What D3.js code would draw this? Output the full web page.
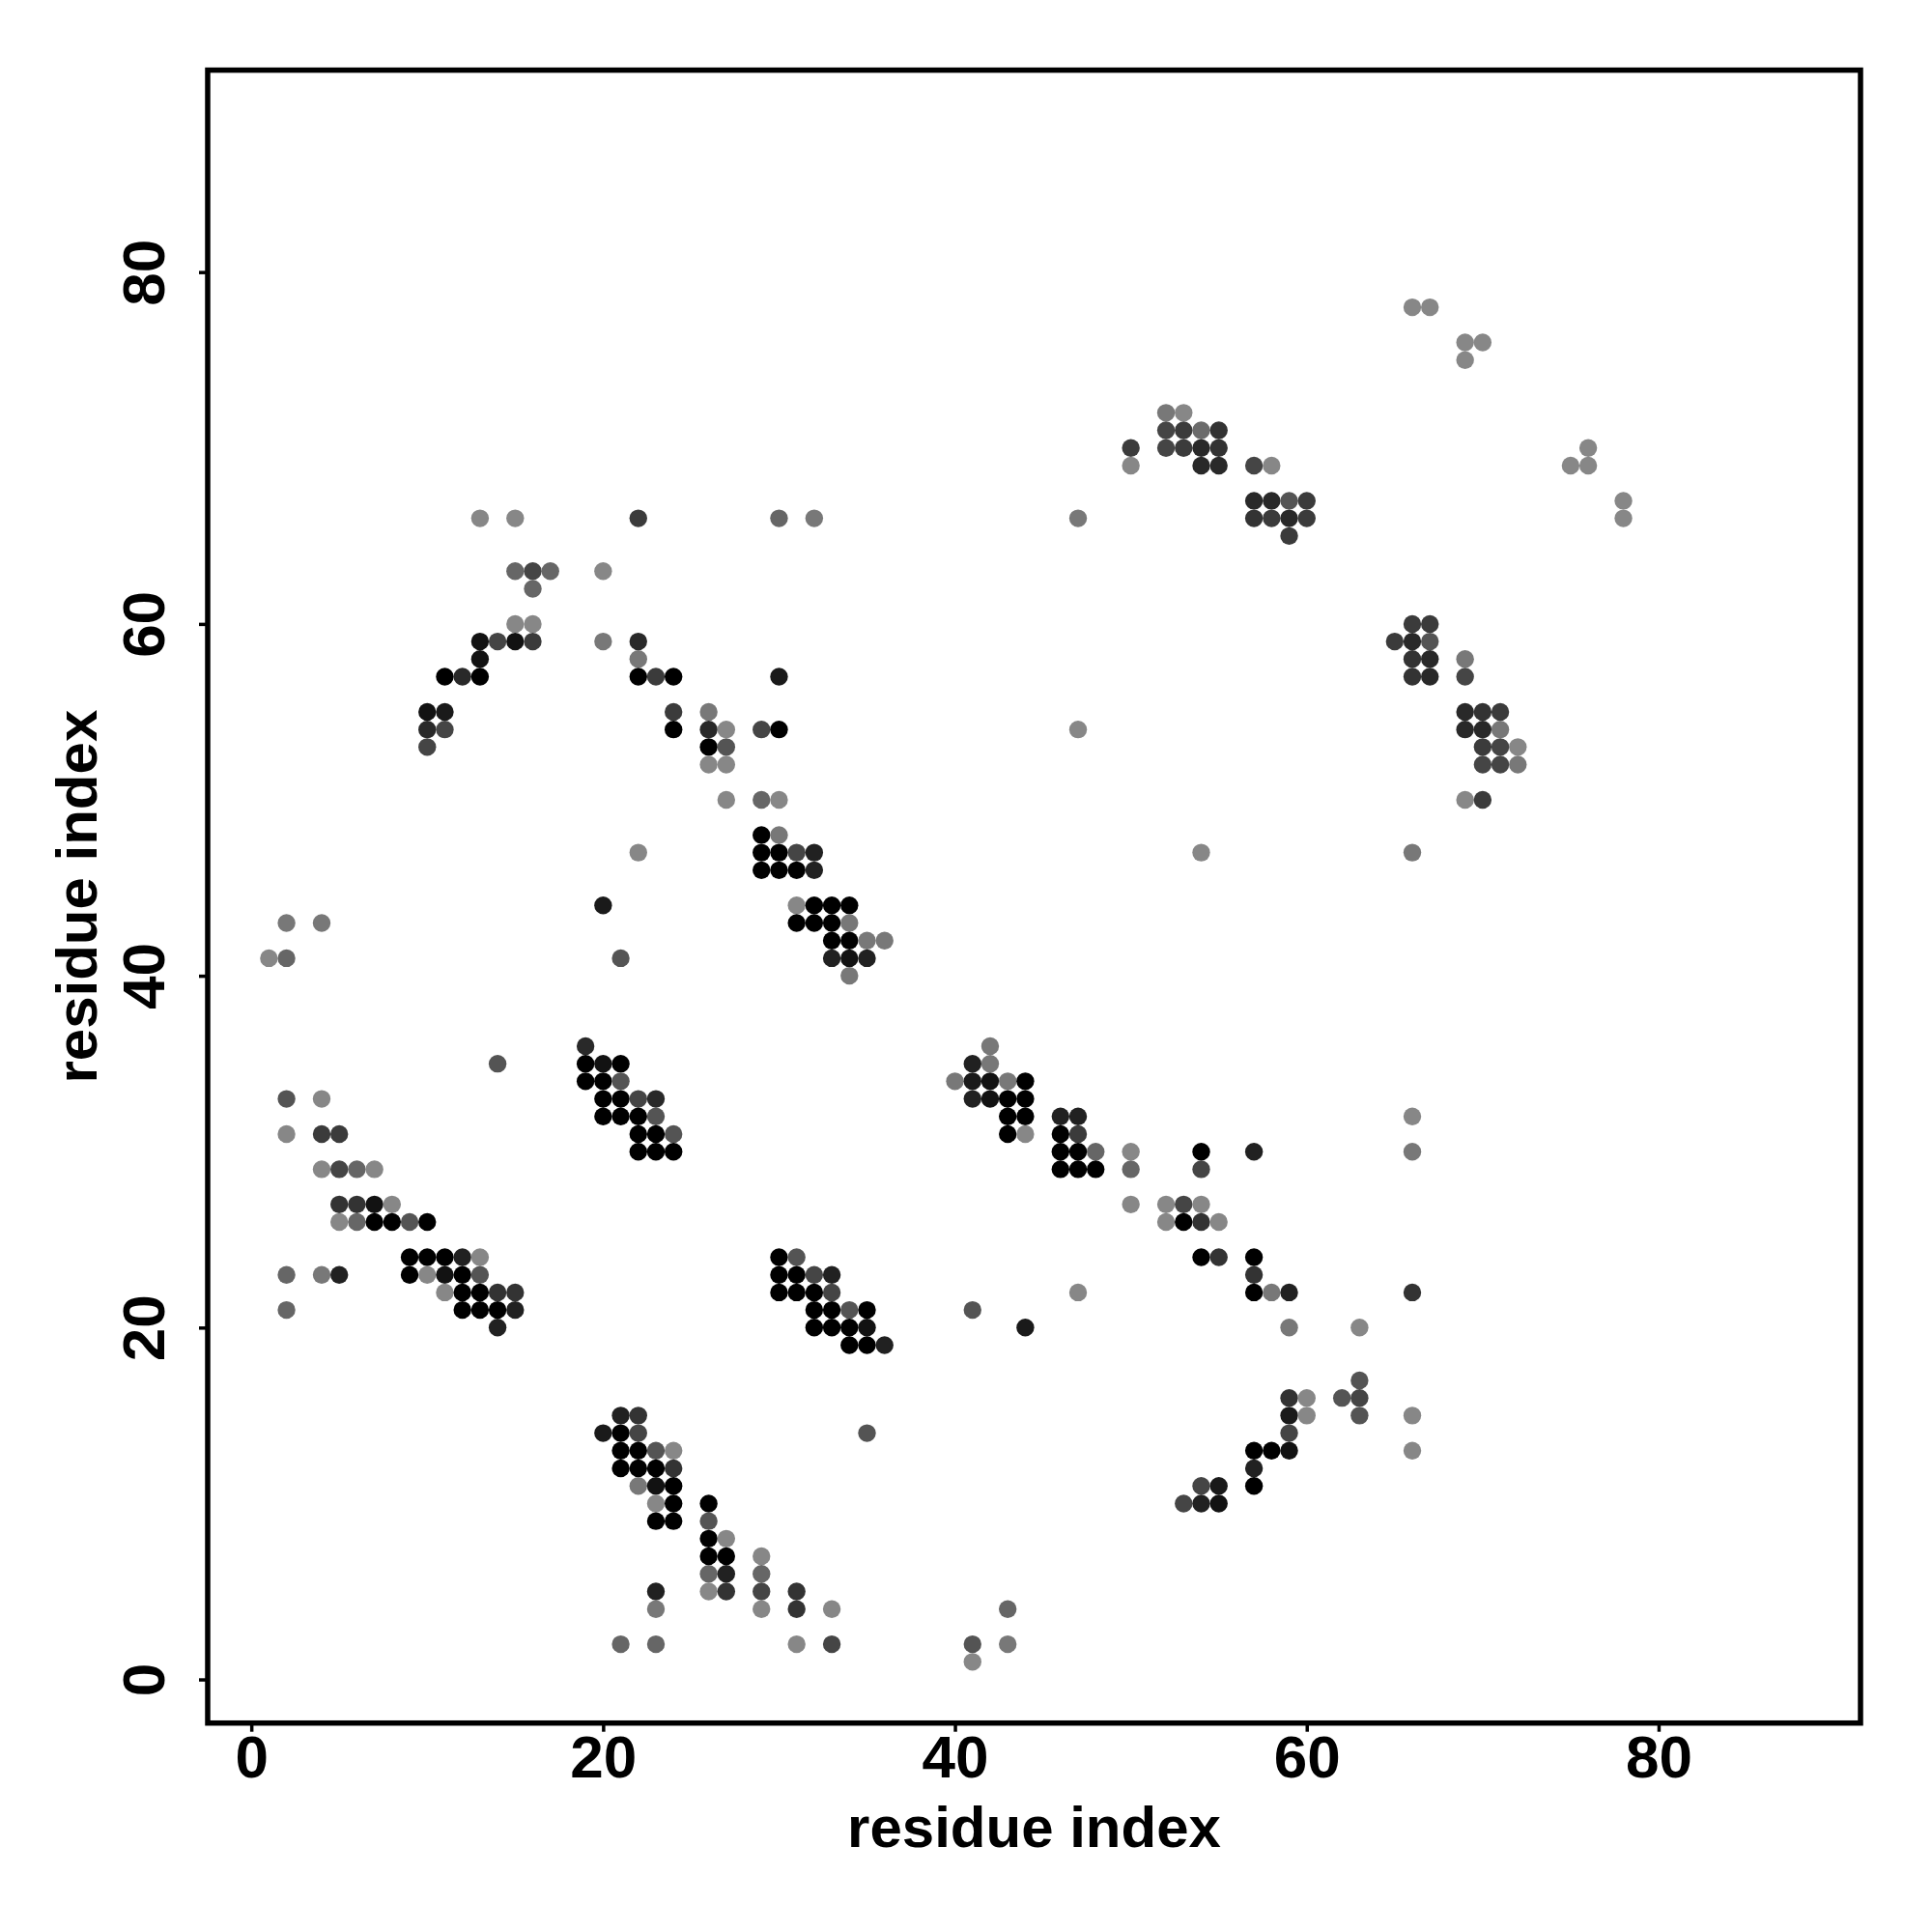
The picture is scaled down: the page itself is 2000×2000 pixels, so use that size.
<!DOCTYPE html>
<html>
<head>
<meta charset="utf-8">
<script src="https://cdn.jsdelivr.net/npm/d3@7"></script>
<style>
  html, body { margin: 0; padding: 0; background: #fff; }
  svg { display: block; }
  text { font-family: "Liberation Sans", Arial, Helvetica, sans-serif; font-weight: bold; }
</style>
</head>
<body>
<svg id="chart" width="2000" height="2000"></svg>
<script>
// ---- data ----
const xTicks = [0, 20, 40, 60, 80];
const yTicks = [0, 20, 40, 60, 80];
const xLabel = "residue index";
const yLabel = "residue index";
const axisLimits = [1, 88];

// contacts: [residue i, residue j, score (0..1, darker = higher)]
const contacts = [
  // j = 78..75
  [66,78,0.47],[67,78,0.47],
  [69,76,0.47],[70,76,0.47],
  [69,75,0.47],
  // j = 72
  [52,72,0.53],[53,72,0.47],
  // j = 71
  [52,71,0.73],[53,71,0.77],[54,71,0.58],[55,71,0.80],
  // j = 70
  [50,70,0.77],[52,70,0.73],[53,70,0.77],[54,70,0.84],[55,70,0.80],[76,70,0.47],
  // j = 69
  [50,69,0.47],[54,69,0.84],[55,69,0.84],[57,69,0.73],[58,69,0.47],[75,69,0.47],[76,69,0.47],
  // j = 67
  [57,67,0.84],[58,67,0.84],[59,67,0.67],[60,67,0.77],[78,67,0.47],
  // j = 66
  [13,66,0.47],[15,66,0.47],[22,66,0.77],[30,66,0.60],[32,66,0.53],[47,66,0.53],
  [57,66,0.80],[58,66,0.77],[59,66,0.84],[60,66,0.77],[78,66,0.47],
  // j = 65
  [59,65,0.77],
  // j = 63, 62
  [15,63,0.60],[16,63,0.73],[17,63,0.60],[20,63,0.47],
  [16,62,0.60],
  // j = 60
  [15,60,0.47],[16,60,0.47],[66,60,0.77],[67,60,0.77],
  // j = 59
  [13,59,0.93],[14,59,0.73],[15,59,0.93],[16,59,0.77],[20,59,0.53],[22,59,0.84],
  [65,59,0.77],[66,59,0.84],[67,59,0.67],
  // j = 58
  [13,58,0.93],[22,58,0.53],[66,58,0.80],[67,58,0.84],[69,58,0.53],
  // j = 57
  [11,57,1.00],[12,57,0.84],[13,57,1.00],[22,57,1.00],[23,57,0.77],[24,57,1.00],[30,57,0.90],
  [66,57,0.80],[67,57,0.84],[69,57,0.73],
  // j = 55
  [10,55,0.93],[11,55,0.90],[24,55,0.77],[26,55,0.53],[69,55,0.84],[70,55,0.80],[71,55,0.77],
  // j = 54
  [10,54,0.84],[11,54,0.73],[24,54,1.00],[26,54,0.84],[27,54,0.47],[29,54,0.73],[30,54,1.00],
  [47,54,0.47],[69,54,0.84],[70,54,0.84],[71,54,0.53],
  // j = 53
  [10,53,0.73],[26,53,1.00],[27,53,0.67],[70,53,0.77],[71,53,0.73],[72,53,0.47],
  // j = 52
  [26,52,0.47],[27,52,0.47],[70,52,0.73],[71,52,0.73],[72,52,0.53],
  // j = 50
  [27,50,0.47],[29,50,0.60],[30,50,0.47],[69,50,0.47],[70,50,0.77],
  // j = 48
  [29,48,1.00],[30,48,0.53],
  // j = 47
  [22,47,0.47],[29,47,1.00],[30,47,1.00],[31,47,0.73],[32,47,0.87],[54,47,0.47],[66,47,0.53],
  // j = 46
  [29,46,1.00],[30,46,1.00],[31,46,1.00],[32,46,0.87],
  // j = 44
  [20,44,0.90],[31,44,0.47],[32,44,1.00],[33,44,1.00],[34,44,1.00],
  // j = 43
  [2,43,0.53],[4,43,0.53],[31,43,1.00],[32,43,1.00],[33,43,1.00],[34,43,0.53],
  // j = 42
  [33,42,1.00],[34,42,1.00],[35,42,0.53],[36,42,0.53],
  // j = 41
  [1,41,0.47],[2,41,0.60],[21,41,0.67],[33,41,0.87],[34,41,0.93],[35,41,0.87],
  // j = 40
  [34,40,0.53],
  // j = 36
  [19,36,0.84],[42,36,0.53],
  // j = 35
  [14,35,0.67],[19,35,1.00],[20,35,0.93],[21,35,1.00],[41,35,0.87],[42,35,0.53],
  // j = 34
  [19,34,1.00],[20,34,1.00],[21,34,0.67],[40,34,0.53],[41,34,0.90],[42,34,0.93],[43,34,0.53],[44,34,1.00],
  // j = 33
  [2,33,0.67],[4,33,0.47],[20,33,1.00],[21,33,1.00],[22,33,0.73],[23,33,0.84],
  [41,33,0.87],[42,33,0.93],[43,33,1.00],[44,33,1.00],
  // j = 32
  [20,32,1.00],[21,32,1.00],[22,32,1.00],[23,32,0.67],[43,32,1.00],[44,32,1.00],
  [46,32,0.87],[47,32,0.87],[66,32,0.47],
  // j = 31
  [2,31,0.47],[4,31,0.77],[5,31,0.77],[22,31,1.00],[23,31,1.00],[24,31,0.67],
  [43,31,1.00],[44,31,0.47],[46,31,1.00],[47,31,0.77],
  // j = 30
  [22,30,1.00],[23,30,1.00],[24,30,1.00],[46,30,1.00],[47,30,1.00],[48,30,0.60],
  [50,30,0.47],[54,30,1.00],[57,30,0.87],[66,30,0.53],
  // j = 29
  [4,29,0.47],[5,29,0.73],[6,29,0.60],[7,29,0.47],[46,29,1.00],[47,29,1.00],[48,29,1.00],
  [50,29,0.60],[54,29,0.73],
  // j = 27
  [5,27,0.80],[6,27,0.80],[7,27,0.93],[8,27,0.47],[50,27,0.47],[52,27,0.47],[53,27,0.73],[54,27,0.47],
  // j = 26
  [5,26,0.47],[6,26,0.60],[7,26,1.00],[8,26,1.00],[9,26,0.67],[10,26,1.00],
  [52,26,0.47],[53,26,1.00],[54,26,0.80],[55,26,0.47],
  // j = 24
  [9,24,1.00],[10,24,1.00],[11,24,1.00],[12,24,0.87],[13,24,0.47],[30,24,1.00],[31,24,0.67],
  [54,24,1.00],[55,24,0.80],[57,24,1.00],
  // j = 23
  [2,23,0.60],[4,23,0.53],[5,23,0.87],[9,23,1.00],[10,23,0.47],[11,23,0.93],[12,23,1.00],[13,23,0.67],
  [30,23,1.00],[31,23,1.00],[32,23,0.73],[33,23,0.87],[57,23,0.80],
  // j = 22
  [11,22,0.47],[12,22,1.00],[13,22,1.00],[14,22,0.80],[15,22,0.80],
  [30,22,1.00],[31,22,1.00],[32,22,1.00],[33,22,0.73],[47,22,0.47],
  [57,22,1.00],[58,22,0.53],[59,22,0.87],[66,22,0.80],
  // j = 21
  [2,21,0.60],[12,21,1.00],[13,21,1.00],[14,21,1.00],[15,21,0.87],
  [32,21,1.00],[33,21,1.00],[34,21,0.67],[35,21,1.00],[41,21,0.67],
  // j = 20
  [14,20,0.87],[32,20,1.00],[33,20,1.00],[34,20,1.00],[35,20,0.93],[44,20,0.90],[59,20,0.53],[63,20,0.47],
  // j = 19
  [34,19,1.00],[35,19,1.00],[36,19,0.87],
  // j = 17
  [63,17,0.67],
  // j = 16
  [59,16,0.80],[60,16,0.47],[62,16,0.67],[63,16,0.73],
  // j = 15
  [21,15,0.87],[22,15,0.80],[59,15,0.90],[60,15,0.47],[63,15,0.67],[66,15,0.47],
  // j = 14
  [20,14,0.90],[21,14,1.00],[22,14,0.73],[35,14,0.67],[59,14,0.73],
  // j = 13
  [21,13,1.00],[22,13,1.00],[23,13,0.67],[24,13,0.47],[57,13,1.00],[58,13,1.00],[59,13,0.93],[66,13,0.47],
  // j = 12
  [21,12,1.00],[22,12,1.00],[23,12,1.00],[24,12,0.80],[57,12,0.87],
  // j = 11
  [22,11,0.53],[23,11,0.93],[24,11,1.00],[54,11,0.73],[55,11,0.90],[57,11,1.00],
  // j = 10
  [23,10,0.47],[24,10,1.00],[26,10,1.00],[53,10,0.73],[54,10,0.87],[55,10,0.93],
  // j = 9..6
  [23,9,1.00],[24,9,1.00],[26,9,0.67],
  [26,8,1.00],[27,8,0.47],
  [26,7,1.00],[27,7,1.00],[29,7,0.47],
  [26,6,0.60],[27,6,0.87],[29,6,0.60],
  // j = 5
  [23,5,0.87],[26,5,0.47],[27,5,0.80],[29,5,0.73],[31,5,0.80],
  // j = 4
  [23,4,0.53],[29,4,0.47],[31,4,0.80],[33,4,0.47],[43,4,0.60],
  // j = 2
  [21,2,0.60],[23,2,0.60],[31,2,0.47],[33,2,0.73],[41,2,0.67],[43,2,0.53],
  // j = 1
  [41,1,0.47]
];

// ---- layout ----
const plot = { left: 215, right: 1926, top: 72.6, bottom: 1783.7 };
const pad = 0.04 * (axisLimits[1] - axisLimits[0]);
const dom = [axisLimits[0] - pad, axisLimits[1] + pad];

const svg = d3.select("#chart");

const x = d3.scaleLinear().domain(dom).range([plot.left, plot.right]);
const y = d3.scaleLinear().domain(dom).range([plot.bottom, plot.top]);
const shade = d3.scaleLinear().domain([0, 1]).range(["#ffffff", "#000000"]).interpolate(d3.interpolateRgb);

// points
svg.append("g")
  .selectAll("circle")
  .data(contacts)
  .join("circle")
  .attr("cx", d => x(d[0]))
  .attr("cy", d => y(d[1]))
  .attr("r", 9.2)
  .attr("fill", d => shade(d[2]));

// frame
svg.append("rect")
  .attr("x", plot.left)
  .attr("y", plot.top)
  .attr("width", plot.right - plot.left)
  .attr("height", plot.bottom - plot.top)
  .attr("fill", "none")
  .attr("stroke", "#000")
  .attr("stroke-width", 5.5);

const fontFam = "'Liberation Sans', Arial, Helvetica, sans-serif";

// x axis
const gx = svg.append("g")
  .attr("transform", `translate(0,${plot.bottom})`)
  .call(d3.axisBottom(x).tickValues(xTicks).tickSize(9).tickSizeOuter(0).tickPadding(3));
gx.select(".domain").remove();
gx.selectAll(".tick line").attr("stroke", "#000").attr("stroke-width", 3.5);
gx.selectAll(".tick text")
  .attr("font-size", 62)
  .attr("font-family", fontFam)
  .attr("font-weight", "bold")
  .attr("fill", "#000");

// y axis
const gy = svg.append("g")
  .attr("transform", `translate(${plot.left},0)`)
  .call(d3.axisLeft(y).tickValues(yTicks).tickSize(9).tickSizeOuter(0));
gy.select(".domain").remove();
gy.selectAll(".tick line").attr("stroke", "#000").attr("stroke-width", 3.5);
gy.selectAll(".tick text")
  .attr("font-size", 62)
  .attr("font-family", fontFam)
  .attr("font-weight", "bold")
  .attr("fill", "#000")
  .attr("text-anchor", "middle")
  .attr("x", 0)
  .attr("dy", null)
  .attr("y", -45)
  .attr("transform", "rotate(-90)");

// axis titles
svg.append("text")
  .attr("x", (plot.left + plot.right) / 2)
  .attr("y", 1912)
  .attr("text-anchor", "middle")
  .attr("font-size", 60)
  .attr("fill", "#000")
  .text(xLabel);

svg.append("text")
  .attr("transform", `translate(100,${(plot.top + plot.bottom) / 2}) rotate(-90)`)
  .attr("text-anchor", "middle")
  .attr("font-size", 60)
  .attr("fill", "#000")
  .text(yLabel);
</script>
</body>
</html>
